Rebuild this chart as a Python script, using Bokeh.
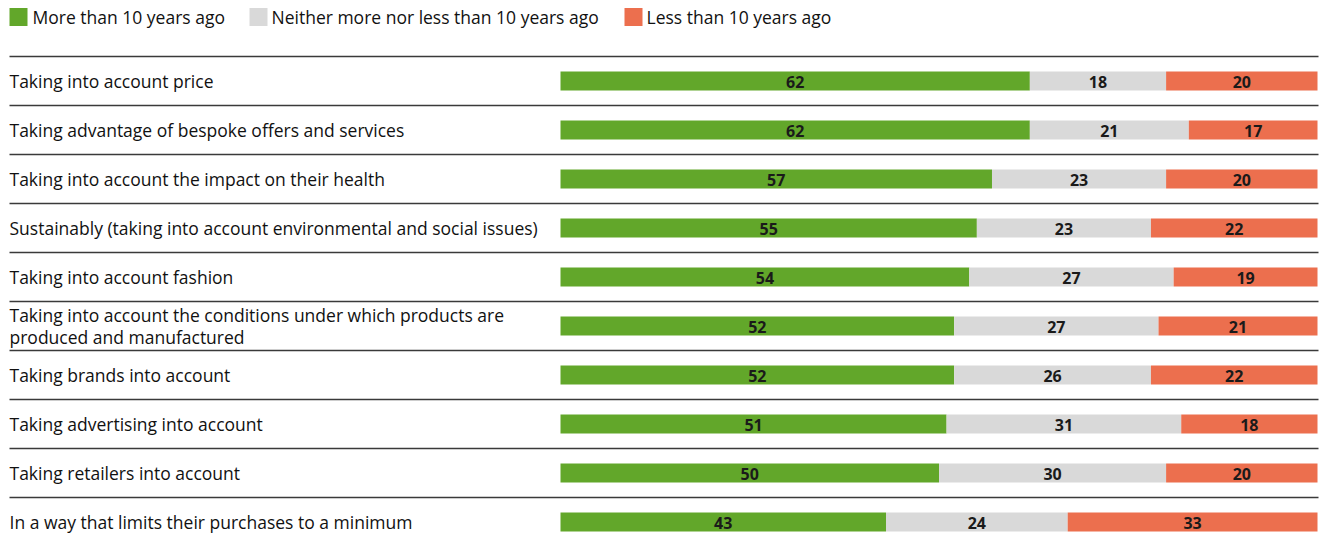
from bokeh.plotting import figure
from bokeh.models import Range1d, ColumnDataSource
from bokeh.core.properties import value
from bokeh.embed import file_html
from bokeh.resources import INLINE

categories = [
    "Taking into account price",
    "Taking advantage of bespoke offers and services",
    "Taking into account the impact on their health",
    "Sustainably (taking into account environmental and social issues)",
    "Taking into account fashion",
    "Taking into account the conditions under which products are\nproduced and manufactured",
    "Taking brands into account",
    "Taking advertising into account",
    "Taking retailers into account",
    "In a way that limits their purchases to a minimum",
]
more = [62, 62, 57, 55, 54, 52, 52, 51, 50, 43]
neither = [18, 21, 23, 23, 27, 27, 26, 31, 30, 24]
less = [20, 17, 20, 22, 19, 21, 22, 18, 20, 33]
series_names = ["More than 10 years ago", "Neither more nor less than 10 years ago", "Less than 10 years ago"]
colors = ["#62A72A", "#D9D9D9", "#EC6F4E"]

FONT = "Open Sans"
W, H = 1322, 536
PPU_X = 757 / 100.0          # pixels per percent
X_START = -560 / PPU_X
ROW = 49.0                   # pixels per row
Y_TOP = 80.5 / ROW

p = figure(width=W, height=H, output_backend="svg", toolbar_location=None,
           x_range=Range1d(X_START, X_START + W / PPU_X),
           y_range=Range1d(Y_TOP - H / ROW, Y_TOP),
           min_border=0, outline_line_color=None)
p.axis.visible = False
p.grid.visible = False

def px_x(page_x):
    return X_START + page_x / PPU_X

def px_y(page_y):
    return Y_TOP - page_y / ROW

ys = [-i for i in range(len(categories))]
series = [more, neither, less]
left = [0.0] * len(categories)
for vals, col in zip(series, colors):
    right = [l + v for l, v in zip(left, vals)]
    src = ColumnDataSource(dict(y=ys, left=left, right=right,
                                mid=[(l + r) / 2 for l, r in zip(left, right)],
                                lab=[str(v) for v in vals]))
    p.hbar(y="y", left="left", right="right", height=19 / ROW, source=src,
           fill_color=col, line_color=None)
    p.text(x="mid", y="y", text="lab", source=src, text_align="center",
           text_baseline="middle", text_font=value(FONT), text_font_size="16px",
           text_font_style="bold", text_color="#1a1a1a", y_offset=1)
    left = right

# separator lines
sep_y = [0.5 - k for k in range(len(categories))]
p.segment(x0=[px_x(9)] * len(sep_y), x1=[px_x(1318)] * len(sep_y), y0=sep_y, y1=sep_y,
          line_color="#3a3a3a", line_width=1.3)

# category labels
p.text(x=[px_x(9)] * len(categories), y=ys, text=categories, text_align="left",
       text_baseline="middle", text_font=value(FONT), text_font_size="17.5px",
       text_color="#111111", text_line_height=0.92)

# legend
leg_sq_x = [9, 249, 624]
leg_tx_x = [32, 271, 646]
for sx, tx, name, col in zip(leg_sq_x, leg_tx_x, series_names, colors):
    p.rect(x=[px_x(sx + 9)], y=[px_y(16.5)], width=18 / PPU_X, height=18 / ROW,
           fill_color=col, line_color=None)
    p.text(x=[px_x(tx)], y=[px_y(16.5)], text=[name], text_align="left",
           text_baseline="middle", text_font=value(FONT), text_font_size="17.5px",
           text_color="#111111")

open("out.html", "w").write(file_html(p, INLINE))
